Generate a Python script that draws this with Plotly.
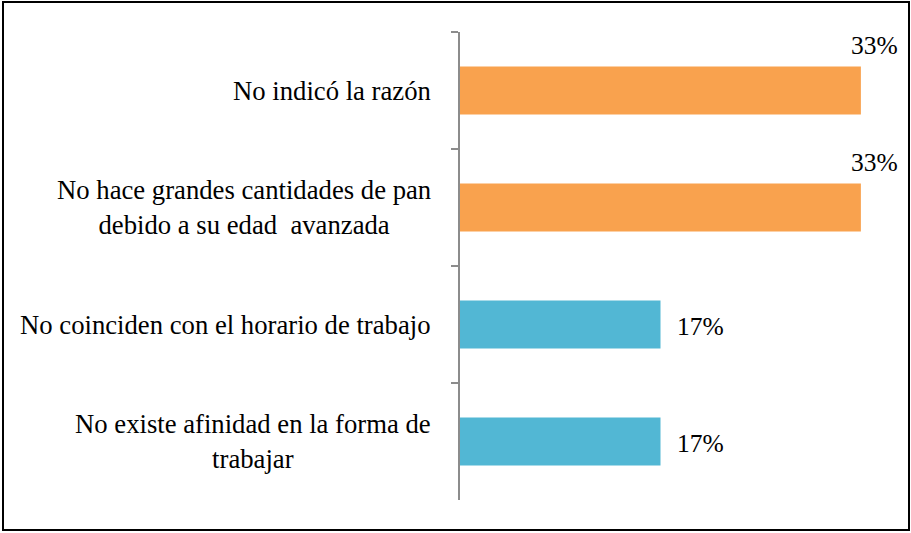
import plotly.graph_objects as go

categories = [
    "No indicó la razón",
    "No hace grandes cantidades de pan<br>debido a su edad  avanzada",
    "No coinciden con el horario de trabajo",
    "No existe afinidad en la forma de<br>trabajar",
]
values = [33.33, 33.33, 16.67, 16.67]
value_labels = ["33%", "33%", "17%", "17%"]
bar_colors = ["#F9A24E", "#F9A24E", "#52B7D4", "#52B7D4"]

FONT = "Liberation Serif"

fig = go.Figure()
fig.add_trace(go.Bar(
    y=categories, x=values, orientation="h",
    marker=dict(color=bar_colors, line=dict(width=0)),
    width=0.41, hoverinfo="skip",
))

annotations = []
for cat, v, lab in zip(categories, values, value_labels):
    annotations.append(dict(
        x=0, xref="paper", y=cat, yref="y", text=cat, showarrow=False,
        xanchor="right", yanchor="middle", align="center", xshift=-27,
        font=dict(family=FONT, size=26.7, color="#000000"),
    ))
    if v > 25:
        annotations.append(dict(
            x=v, y=cat, text=lab, showarrow=False, xanchor="right",
            yanchor="middle", xshift=39, yshift=45,
            font=dict(family=FONT, size=25.5, color="#000000"),
        ))
    else:
        annotations.append(dict(
            x=v, y=cat, text=lab, showarrow=False, xanchor="left",
            yanchor="middle", xshift=14, yshift=-2,
            font=dict(family=FONT, size=25.5, color="#000000"),
        ))

pw, ph = 433.0, 468.0
L, T = 460.0, 32.0
def px(x):
    return (x - L) / pw
def py(y):
    return (T + ph - y) / ph

fig.update_layout(
    width=911, height=533,
    margin=dict(l=460, r=18, t=32, b=33),
    paper_bgcolor="white", plot_bgcolor="white",
    showlegend=False,
    font=dict(family=FONT),
    xaxis=dict(range=[0, 36], visible=False, showgrid=False, zeroline=False),
    yaxis=dict(
        autorange="reversed", type="category",
        showticklabels=False, showgrid=False, zeroline=False,
        showline=True, linecolor="#8C8C8C", linewidth=2,
        ticks="outside", tickson="boundaries", ticklen=7,
        tickwidth=2, tickcolor="#8C8C8C",
    ),
    annotations=annotations,
    shapes=[dict(
        type="rect", xref="paper", yref="paper",
        x0=px(3), x1=px(909), y0=py(530), y1=py(2),
        line=dict(color="#000000", width=2), fillcolor="rgba(0,0,0,0)",
        layer="above",
    )],
)

fig.write_html(
    "out.html",
    config={"displayModeBar": False},
    post_script="document.body.style.margin='0';document.body.style.overflow='hidden';",
)
